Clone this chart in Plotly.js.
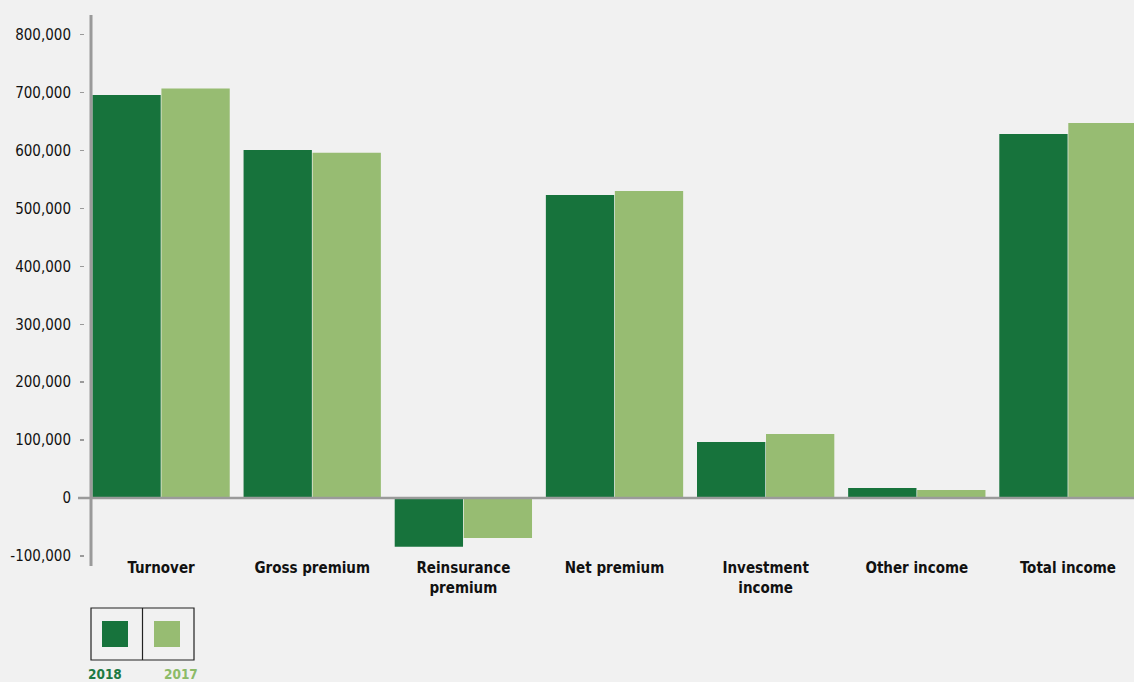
<!DOCTYPE html>
<html>
<head>
<meta charset="utf-8">
<script src="https://cdn.plot.ly/plotly-3.0.1.min.js"></script>
<style>
html,body{margin:0;padding:0;background:#f1f1f1;}
#chart{width:1134px;height:682px;}
</style>
</head>
<body>
<div id="chart"></div>
<script>
// ---- data ----
const categories = ["Turnover", "Gross premium", "Reinsurance<br>premium", "Net premium", "Investment<br>income", "Other income", "Total income"];
const values2018 = [696000, 601000, -84000, 523000, 96700, 17300, 628700];
const values2017 = [707000, 596000, -69000, 530000, 110500, 13800, 647700];
const seriesNames = ["2018", "2017"];
const yTickVals = [-100000, 0, 100000, 200000, 300000, 400000, 500000, 600000, 700000, 800000];
const yTickText = ["-100,000", "0", "100,000", "200,000", "300,000", "400,000", "500,000", "600,000", "700,000", "800,000"];

// ---- styling ----
const W = 1134, H = 682;
const M = {l: 84, r: 0, t: 15, b: 116};
const PW = W - M.l - M.r, PH = H - M.t - M.b;
const px = x => (x - M.l) / PW;          // pixel -> paper x
const py = y => (H - M.b - y) / PH;      // pixel -> paper y
const DARK = "#17733c", LIGHT = "#97bc72", AXIS = "#9a9a9a", BG = "#f1f1f1";
const narrow = "'Liberation Sans Narrow', 'DejaVu Sans Condensed', 'Arial Narrow', sans-serif";

const idx = categories.map((_, i) => i);

const traces = [
  {type: "bar", name: seriesNames[0], x: idx, y: values2018,
   marker: {color: DARK, line: {width: 0}}, hoverinfo: "skip"},
  {type: "bar", name: seriesNames[1], x: idx, y: values2017,
   marker: {color: LIGHT, line: {width: 0}}, hoverinfo: "skip"}
];

const plotLeft = 92;

const layout = {
  width: W, height: H,
  margin: M,
  paper_bgcolor: BG, plot_bgcolor: BG,
  showlegend: false,
  barmode: "group",
  bargap: 0.087,
  bargroupgap: 0.01,
  xaxis: {
    domain: [px(plotLeft), 1],
    range: [-0.457, 6.437],
    anchor: "free", position: py(557),
    tickmode: "array", tickvals: idx, ticktext: categories,
    showline: false, showgrid: false, zeroline: false, ticks: "",
    tickfont: {family: narrow, size: 15, color: "#111", weight: "bold"}
  },
  yaxis: {
    domain: [0, 1],
    range: [-117400, 834000],
    anchor: "free", position: 0,
    tickmode: "array", tickvals: yTickVals, ticktext: yTickText,
    showline: false, showgrid: false, zeroline: false,
    ticks: "outside", ticklen: 4, tickwidth: 1.5, tickcolor: AXIS,
    ticklabelstandoff: 6,
    tickfont: {family: narrow, size: 15, color: "#111"}
  },
  shapes: [
    // zero line
    {type: "line", xref: "paper", yref: "y", x0: px(78), x1: 1, y0: 0, y1: 0,
     line: {color: AXIS, width: 2.5}, layer: "above"},
    // y axis line
    {type: "line", xref: "paper", yref: "paper", x0: px(plotLeft - 1), x1: px(plotLeft - 1), y0: 0, y1: 1,
     line: {color: AXIS, width: 3}, layer: "above"},
    // legend box
    {type: "rect", xref: "paper", yref: "paper", x0: px(91), x1: px(194), y0: py(660), y1: py(608),
     line: {color: "#222", width: 1.2}, fillcolor: "rgba(0,0,0,0)"},
    {type: "line", xref: "paper", yref: "paper", x0: px(142.5), x1: px(142.5), y0: py(660), y1: py(608),
     line: {color: "#222", width: 1.2}},
    {type: "rect", xref: "paper", yref: "paper", x0: px(102), x1: px(128), y0: py(647), y1: py(621),
     line: {width: 0}, fillcolor: DARK},
    {type: "rect", xref: "paper", yref: "paper", x0: px(154), x1: px(180), y0: py(647), y1: py(621),
     line: {width: 0}, fillcolor: LIGHT}
  ],
  annotations: [
    {xref: "paper", yref: "paper", x: px(105), y: py(673.5), text: seriesNames[0], showarrow: false,
     xanchor: "center", yanchor: "middle",
     font: {family: narrow, size: 13.5, color: "#1e7a44", weight: "bold"}},
    {xref: "paper", yref: "paper", x: px(181), y: py(673.5), text: seriesNames[1], showarrow: false,
     xanchor: "center", yanchor: "middle",
     font: {family: narrow, size: 13.5, color: "#8cbb68", weight: "bold"}}
  ]
};

Plotly.newPlot("chart", traces, layout, {displayModeBar: false, staticPlot: true});
</script>
</body>
</html>
